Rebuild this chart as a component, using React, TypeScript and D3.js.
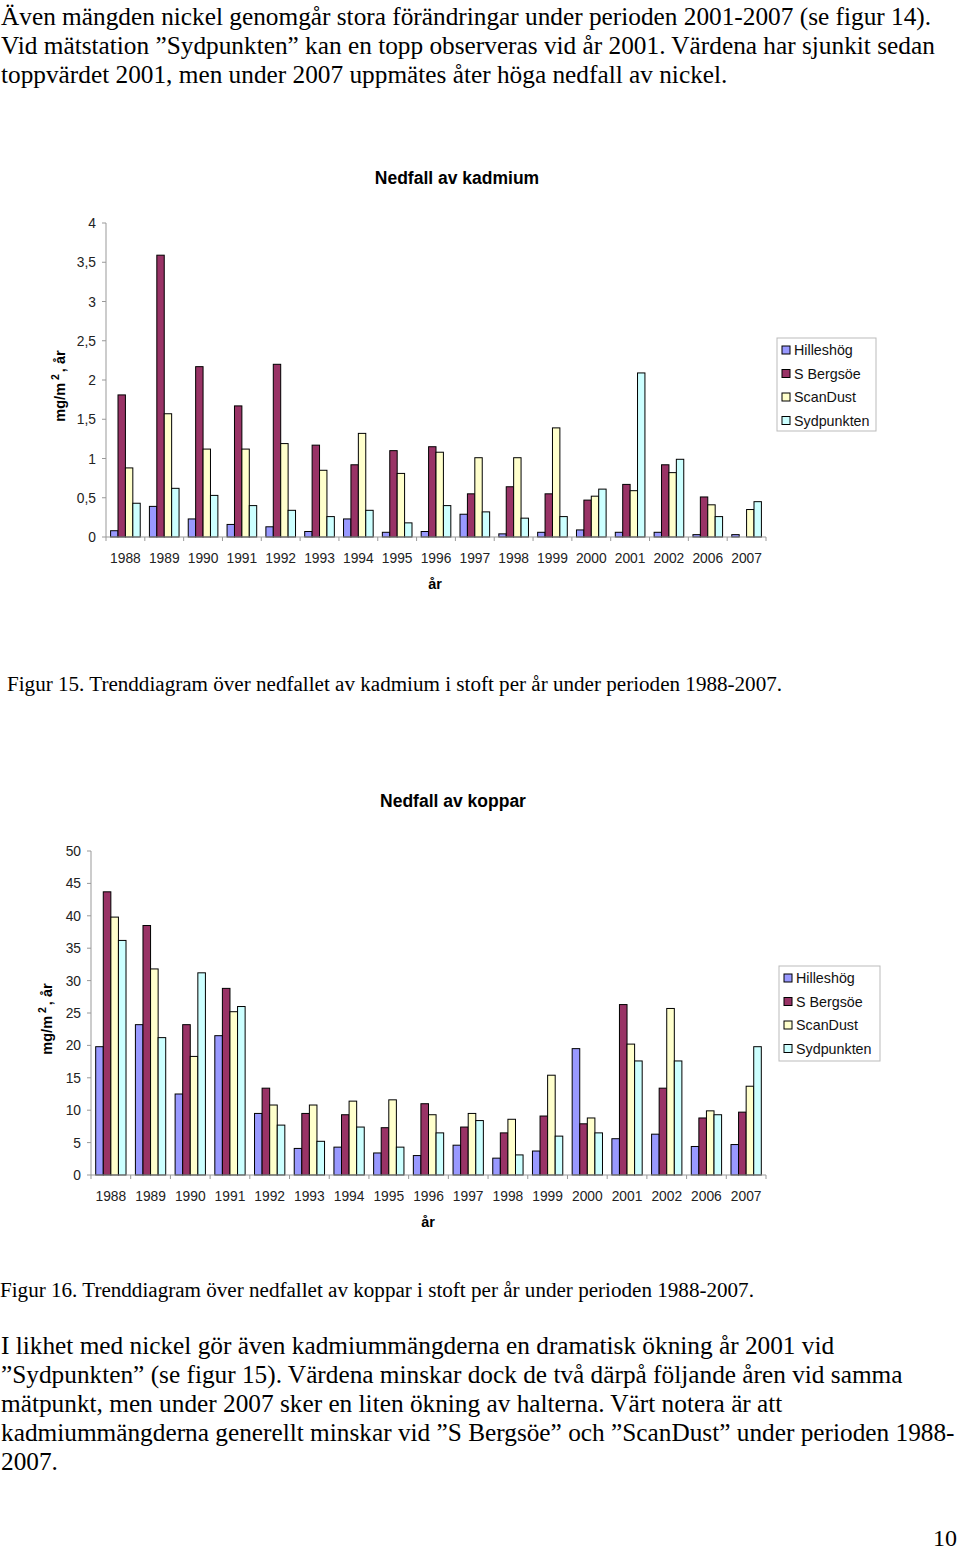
import * as d3 from 'd3'

const YEARS = ['1988', '1989', '1990', '1991', '1992', '1993', '1994', '1995', '1996', '1997', '1998', '1999', '2000', '2001', '2002', '2006', '2007']
const SERIES = ['Hilleshög', 'S Bergsöe', 'ScanDust', 'Sydpunkten']
const COLORS = ['#9999ff', '#993366', '#ffffcc', '#ccffff']

// kadmium, mg/m2 år
const cdHilleshog = [0.08, 0.39, 0.23, 0.16, 0.13, 0.07, 0.23, 0.06, 0.07, 0.29, 0.04, 0.06, 0.09, 0.06, 0.06, 0.03, 0.03]
const cdBergsoe = [1.81, 3.59, 2.17, 1.67, 2.2, 1.17, 0.92, 1.1, 1.15, 0.55, 0.64, 0.55, 0.47, 0.67, 0.92, 0.51, null]
const cdScanDust = [0.88, 1.57, 1.12, 1.12, 1.19, 0.85, 1.32, 0.81, 1.08, 1.01, 1.01, 1.39, 0.52, 0.59, 0.82, 0.41, 0.35]
const cdSydpunkten = [0.43, 0.62, 0.53, 0.4, 0.34, 0.26, 0.34, 0.18, 0.4, 0.32, 0.24, 0.26, 0.61, 2.09, 0.99, 0.26, 0.45]
const cdTicks = [0, 0.5, 1, 1.5, 2, 2.5, 3, 3.5, 4]

// koppar, mg/m2 år
const cuHilleshog = [19.8, 23.2, 12.5, 21.5, 9.5, 4.1, 4.3, 3.4, 3.0, 4.6, 2.6, 3.7, 19.5, 5.6, 6.3, 4.4, 4.7]
const cuBergsoe = [43.7, 38.5, 23.2, 28.8, 13.4, 9.5, 9.3, 7.3, 11.0, 7.4, 6.5, 9.1, 7.9, 26.3, 13.4, 8.8, 9.7]
const cuScanDust = [39.8, 31.8, 18.3, 25.2, 10.8, 10.8, 11.4, 11.6, 9.3, 9.5, 8.6, 15.4, 8.8, 20.2, 25.7, 9.9, 13.7]
const cuSydpunkten = [36.2, 21.2, 31.2, 26.0, 7.7, 5.2, 7.4, 4.3, 6.5, 8.4, 3.1, 6.0, 6.5, 17.6, 17.6, 9.3, 19.8]
const cuTicks = [0, 5, 10, 15, 20, 25, 30, 35, 40, 45, 50]

const topText = [
  'Även mängden nickel genomgår stora förändringar under perioden 2001-2007 (se figur 14).',
  'Vid mätstation ”Sydpunkten” kan en topp observeras vid år 2001. Värdena har sjunkit sedan',
  'toppvärdet 2001, men under 2007 uppmätes åter höga nedfall av nickel.',
]
const bottomText = [
  'I likhet med nickel gör även kadmiummängderna en dramatisk ökning år 2001 vid',
  '”Sydpunkten” (se figur 15). Värdena minskar dock de två därpå följande åren vid samma',
  'mätpunkt, men under 2007 sker en liten ökning av halterna. Värt notera är att',
  'kadmiummängderna generellt minskar vid ”S Bergsöe” och ”ScanDust” under perioden 1988-',
  '2007.',
]

const sv = d3.formatLocale({ decimal: ',', thousands: ' ', grouping: [3], currency: ['', ' kr'] })
const fmt = sv.format('~g')

const SANS = '"Liberation Sans", Arial, sans-serif'
const SERIF = '"Liberation Serif", "Times New Roman", serif'

type ChartProps = {
  title: string
  values: (number | null)[][]
  ticks: number[]
  left: number
  right: number
  top: number
  bottom: number
  titleX: number
  titleY: number
  tickLabelX: number
  xLabelX: number
  yLabelX: number
  legendX: number
  legendY: number
  legendW: number
  legendH: number
}

function BarChart(p: ChartProps) {
  const x0 = d3.scaleBand().domain(YEARS).range([p.left, p.right])
  const x1 = d3.scaleBand().domain(SERIES).range([0, x0.bandwidth()]).paddingOuter(0.62)
  const y = d3.scaleLinear().domain([0, p.ticks[p.ticks.length - 1]]).range([p.bottom, p.top])
  const bounds = [...YEARS.map((d) => x0(d)!), p.right]
  const yMid = (p.top + p.bottom) / 2 + 6
  return (
    <g fontFamily={SANS}>
      <text x={p.titleX} y={p.titleY} textAnchor="middle" fontSize={17.5} fontWeight="bold">
        {p.title}
      </text>
      {p.ticks.map((t) => (
        <g key={t}>
          <line x1={p.left - 4} x2={p.left} y1={y(t)} y2={y(t)} stroke="#999" />
          <text x={p.tickLabelX} y={y(t) + 5} textAnchor="end" fontSize={13.8} fill="#222">
            {fmt(t)}
          </text>
        </g>
      ))}
      <line x1={p.left} x2={p.left} y1={p.top} y2={p.bottom} stroke="#999" />
      {SERIES.map((s, si) =>
        YEARS.map((yr, i) => {
          const v = p.values[si][i]
          if (v == null) return null
          return (
            <rect
              key={s + yr}
              x={x0(yr)! + x1(s)!}
              y={y(v)}
              width={x1.bandwidth()}
              height={p.bottom - y(v)}
              fill={COLORS[si]}
              stroke="#000"
              strokeWidth={1}
            />
          )
        })
      )}
      <line x1={p.left} x2={p.right} y1={p.bottom} y2={p.bottom} stroke="#999" />
      {bounds.map((b, i) => (
        <line key={i} x1={b} x2={b} y1={p.bottom} y2={p.bottom + 4} stroke="#999" />
      ))}
      {YEARS.map((yr) => (
        <text key={yr} x={x0(yr)! + x0.bandwidth() / 2} y={p.bottom + 26} textAnchor="middle" fontSize={13.8} fill="#222">
          {yr}
        </text>
      ))}
      <text x={p.xLabelX} y={p.bottom + 52} textAnchor="middle" fontSize={14.5} fontWeight="bold">
        år
      </text>
      <text
        transform={`translate(${p.yLabelX},${yMid}) rotate(-90)`}
        textAnchor="middle"
        fontSize={14.5}
        fontWeight="bold"
      >
        mg/m
        <tspan dx={3} dy={-6} fontSize={10.5}>2</tspan>
        <tspan dx={2} dy={6}>, år</tspan>
      </text>
      <rect x={p.legendX} y={p.legendY} width={p.legendW} height={p.legendH} fill="#fff" stroke="#bbb" />
      {SERIES.map((s, si) => (
        <g key={s} transform={`translate(${p.legendX + 5},${p.legendY + 12 + si * 23.5})`}>
          <rect x={0} y={-4} width={8} height={8} fill={COLORS[si]} stroke="#000" />
          <text x={12} y={5} fontSize={14.3} fill="#111">
            {s}
          </text>
        </g>
      ))}
    </g>
  )
}

export default function App() {
  return (
    <svg
      width={960}
      height={1550}
      style={{ position: 'absolute', left: 0, top: 0, background: '#fff' }}
    >
      <g fontFamily={SERIF} fontSize={25.3}>
        {topText.map((t, i) => (
          <text key={i} x={1} y={25 + i * 29}>
            {t}
          </text>
        ))}
      </g>
      <BarChart
        title="Nedfall av kadmium"
        values={[cdHilleshog, cdBergsoe, cdScanDust, cdSydpunkten]}
        ticks={cdTicks}
        left={106}
        right={766}
        top={223}
        bottom={537}
        titleX={457}
        titleY={184}
        tickLabelX={96}
        xLabelX={435}
        yLabelX={65}
        legendX={777}
        legendY={338}
        legendW={99}
        legendH={93}
      />
      <text x={7} y={691} fontFamily={SERIF} fontSize={21.1}>
        Figur 15. Trenddiagram över nedfallet av kadmium i stoft per år under perioden 1988-2007.
      </text>
      <BarChart
        title="Nedfall av koppar"
        values={[cuHilleshog, cuBergsoe, cuScanDust, cuSydpunkten]}
        ticks={cuTicks}
        left={91}
        right={766}
        top={851}
        bottom={1175}
        titleX={453}
        titleY={807}
        tickLabelX={81}
        xLabelX={428}
        yLabelX={52}
        legendX={779}
        legendY={966}
        legendW={101}
        legendH={95}
      />
      <text x={0} y={1297} fontFamily={SERIF} fontSize={21.1}>
        Figur 16. Trenddiagram över nedfallet av koppar i stoft per år under perioden 1988-2007.
      </text>
      <g fontFamily={SERIF} fontSize={25.3}>
        {bottomText.map((t, i) => (
          <text key={i} x={1} y={1354 + i * 29}>
            {t}
          </text>
        ))}
      </g>
      <text x={933} y={1546} fontFamily={SERIF} fontSize={24}>
        10
      </text>
    </svg>
  )
}
